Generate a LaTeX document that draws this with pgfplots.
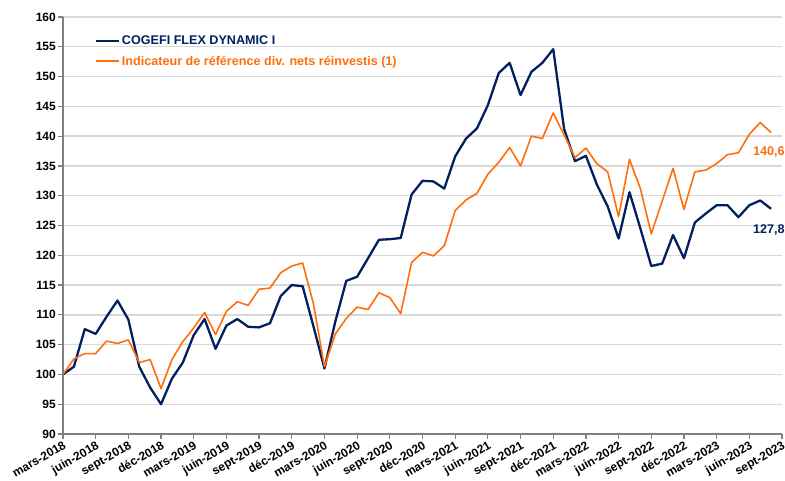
\documentclass[border=0pt]{standalone}
\usepackage{pgfplots}
\pgfplotsset{compat=1.18}
\usepackage{fontspec}
\setmainfont{Liberation Sans}
\definecolor{navy}{RGB}{0,32,96}
\definecolor{orng}{RGB}{255,110,10}
\definecolor{gridc}{RGB}{217,217,217}
\definecolor{axc}{RGB}{128,128,128}
\begin{document}
\begin{tikzpicture}
\begin{axis}[
  at={(63pt,-434pt)}, anchor=south west,
  scale only axis, width=719pt, height=417pt,
  xmin=0, xmax=66, ymin=90, ymax=160,
  xtick={0,3,...,66},
  xticklabels={mars-2018,juin-2018,sept-2018,déc-2018,mars-2019,juin-2019,sept-2019,déc-2019,mars-2020,juin-2020,sept-2020,déc-2020,mars-2021,juin-2021,sept-2021,déc-2021,mars-2022,juin-2022,sept-2022,déc-2022,mars-2023,juin-2023,sept-2023},
  ytick={90,95,...,160},
  axis x line*=bottom, axis y line*=left,
  axis line style={draw=axc, line width=1.5pt, -},
  ymajorgrids, major grid style={draw=gridc, line width=1.3pt},
  tick style={draw=axc, line width=1.2pt},
  tick align=outside, major tick length=5pt,
  /pgf/number format/assume math mode=true,
  ticklabel style={font=\bfseries\fontsize{12}{14}\selectfont},
  xticklabel style={rotate=30, anchor=north east, inner sep=1pt},
  yticklabel style={inner sep=2pt},
  clip=false,
  legend style={at={(0.04,0.965)}, anchor=north west, draw=none, fill=none,
    font=\bfseries\fontsize{12.6}{15}\selectfont, row sep=6pt},
  legend cell align=left,
  legend image code/.code={\draw[#1, line width=2pt] (0pt,0pt) -- (23pt,0pt);},
]
\addplot[navy, line width=2.3pt, line join=round] table {
0 100
1 101.3
2 107.6
3 106.8
4 109.7
5 112.4
6 109.2
7 101.3
8 97.8
9 95.0
10 99.3
11 102.0
12 106.6
13 109.3
14 104.3
15 108.2
16 109.3
17 108.0
18 107.9
19 108.6
20 113.2
21 115.0
22 114.8
23 108.0
24 101.0
25 108.9
26 115.7
27 116.4
28 119.5
29 122.6
30 122.7
31 122.9
32 130.2
33 132.5
34 132.4
35 131.2
36 136.6
37 139.6
38 141.3
39 145.2
40 150.6
41 152.3
42 146.9
43 150.8
44 152.3
45 154.6
46 141.2
47 135.8
48 136.7
49 131.9
50 128.2
51 122.8
52 130.6
53 124.5
54 118.2
55 118.6
56 123.4
57 119.5
58 125.5
59 127.0
60 128.4
61 128.4
62 126.4
63 128.4
64 129.2
65 127.8
};
\addlegendentry{\textcolor{navy}{COGEFI FLEX DYNAMIC I}}
\addplot[orng, line width=1.6pt, line join=round] table {
0 100
1 102.6
2 103.5
3 103.5
4 105.6
5 105.2
6 105.8
7 102.0
8 102.5
9 97.6
10 102.5
11 105.5
12 107.8
13 110.4
14 106.7
15 110.6
16 112.2
17 111.6
18 114.3
19 114.5
20 117.1
21 118.2
22 118.7
23 111.8
24 101.3
25 106.8
26 109.4
27 111.3
28 110.9
29 113.7
30 112.9
31 110.2
32 118.8
33 120.5
34 119.9
35 121.6
36 127.5
37 129.3
38 130.4
39 133.6
40 135.6
41 138.1
42 135.0
43 140.0
44 139.6
45 143.9
46 140.2
47 136.4
48 138.0
49 135.4
50 134.0
51 126.5
52 136.1
53 131.2
54 123.6
55 129.1
56 134.6
57 127.7
58 134.0
59 134.3
60 135.4
61 136.9
62 137.2
63 140.3
64 142.3
65 140.6
};
\addlegendentry{\textcolor{orng}{Indicateur de référence div. nets réinvestis (1)}}
\node[font=\bfseries\fontsize{12.6}{15}\selectfont, text=orng] at (axis cs:64.8,137.3) {140,6};
\node[font=\bfseries\fontsize{12.6}{15}\selectfont, text=navy] at (axis cs:64.8,124.3) {127,8};
\end{axis}
\pgfresetboundingbox
\path (0pt,0pt) rectangle (785pt,-481pt);
\end{tikzpicture}
\end{document}
